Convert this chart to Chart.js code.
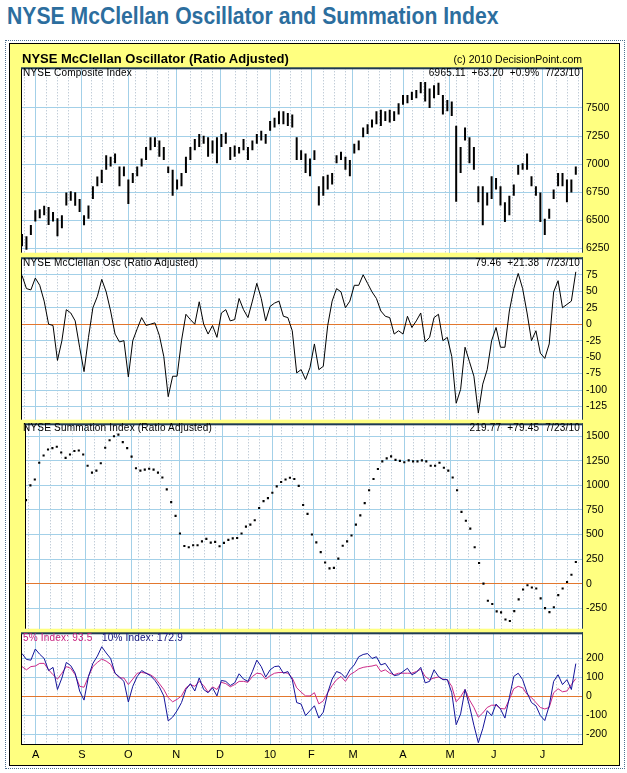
<!DOCTYPE html>
<html>
<head>
<meta charset="utf-8">
<script src="https://cdn.jsdelivr.net/npm/chart.js@4.4.1/dist/chart.umd.min.js"></script>
<style>
  body { margin: 0; background: #fff; width: 627px; height: 773px; position: relative; overflow: hidden;
         font-family: "Liberation Sans", Arial, sans-serif; }
  .abs { position: absolute; }
  #outer { left: 5px; top: 40px; width: 618px; height: 727px; border: 1px dotted #4d6f8f; }
  #box { left: 9px; top: 43px; width: 609px; height: 721px; border: 1px solid #000; background: #ffff80; }
  canvas { position: absolute; left: 21px; }
  .lbl { position: absolute; font-size: 10px; line-height: 10px; white-space: pre; color: #000; z-index: 5; letter-spacing: 0.2px; }
  #title { left: 7px; top: 5px; font-size: 23px; line-height: 23px; font-weight: bold; color: #2c6e9e;
           white-space: pre; transform: scaleX(0.92); transform-origin: left top; }
  #head { left: 22px; top: 52px; font-size: 13px; line-height: 13px; font-weight: bold; white-space: pre; z-index: 5; }
  #copy { right: 45px; top: 54px; font-size: 10.5px; line-height: 10.5px; white-space: pre; z-index: 5; }
</style>
</head>
<body>
<div id="outer" class="abs"></div>
<div id="box" class="abs"></div>
<div id="title" class="abs">NYSE McClellan Oscillator and Summation Index</div>
<div id="head" class="abs">NYSE McClellan Oscillator (Ratio Adjusted)</div>
<div id="copy" class="abs">(c) 2010 DecisionPoint.com</div>

<canvas id="c1" width="600" height="205" style="top:58px"></canvas>
<canvas id="c2" width="600" height="182" style="top:248px"></canvas>
<canvas id="c3" width="600" height="225" style="top:414px"></canvas>
<canvas id="c4" width="600" height="139" style="top:623px"></canvas>

<div class="lbl" style="left:23px;top:67.5px">NYSE Composite Index</div>
<div class="lbl" style="right:47px;top:67.5px">6965.11  +63.20  +0.9%  7/23/10</div>
<div class="lbl" style="left:23px;top:258px">NYSE McClellan Osc (Ratio Adjusted)</div>
<div class="lbl" style="right:47px;top:258px">79.46  +21.38  7/23/10</div>
<div class="lbl" style="left:23px;top:423px">NYSE Summation Index (Ratio Adjusted)</div>
<div class="lbl" style="right:47px;top:423px">219.77  +79.45  7/23/10</div>
<div class="lbl" style="left:23px;top:633px;color:#c8207e">5% Index: 93.5</div>
<div class="lbl" style="left:102px;top:633px;color:#10107a">10% Index: 172.9</div>

<script>
// one point = two trading days, 24 Jul 2009 .. 23 Jul 2010
const monthLabels = ['A', 'S', 'O', 'N', 'D', '10', 'F', 'M', 'A', 'M', 'J', 'J'];
const monthPos = [3.1, 13.5, 24.0, 34.8, 44.7, 56.0, 65.3, 74.7, 86.0, 96.6, 106.5, 117.5];

const nyaTicks = [6250, 6500, 6750, 7000, 7250, 7500];
const oscTicks = [-125, -100, -75, -50, -25, 0, 25, 50, 75];
const sumTicks = [-250, 0, 250, 500, 750, 1000, 1250, 1500];
const pctTicks = [-200, -100, 0, 100, 200];

const nyaHigh = [
  6380, 6360, 6460, 6590, 6600, 6630, 6620, 6575, 6520, 6545,
  6748, 6760, 6750, 6690, 6545, 6632, 6805, 6890, 6950, 7080,
  7066, 7095, 6979, 6979, 6863, 6921, 6979, 7050, 7153, 7240,
  7240, 7211, 7153, 6979, 6950, 6863, 6921, 7066, 7153, 7225,
  7268, 7254, 7240, 7211, 7240, 7268, 7283, 7153, 7167, 7153,
  7225, 7153, 7211, 7268, 7297, 7268, 7384, 7413, 7471, 7471,
  7456, 7442, 7240, 7124, 7095, 7050, 7124, 6805, 6892, 6907,
  6921, 7080, 7110, 7066, 7037, 7182, 7211, 7326, 7355, 7398,
  7471, 7485, 7471, 7485, 7471, 7543, 7616, 7616, 7645, 7659,
  7731, 7731, 7674, 7703, 7725, 7616, 7572, 7558, 7341, 7153,
  7326, 7240, 7153, 6805, 6805, 6748, 6892, 6878, 6805, 6661,
  6719, 6820, 6994, 7008, 7095, 6892, 6805, 6748, 6516, 6603,
  6776, 6921, 6921, 6863, 6863, 6979
];
const nyaLow = [
  6270, 6240, 6370, 6490, 6520, 6545, 6460, 6490, 6360, 6430,
  6632, 6675, 6630, 6575, 6458, 6516, 6690, 6805, 6834, 6950,
  6979, 7008, 6805, 6892, 6646, 6834, 6892, 6979, 7037, 7124,
  7153, 7066, 7037, 6921, 6719, 6776, 6805, 6921, 7037, 7124,
  7153, 7182, 7066, 7095, 7008, 7153, 7182, 7037, 7066, 7095,
  7124, 7037, 7124, 7182, 7211, 7182, 7297, 7326, 7355, 7355,
  7340, 7326, 7037, 7037, 6921, 6892, 7037, 6632, 6719, 6776,
  6820, 7008, 7037, 6950, 6892, 7095, 7124, 7240, 7268, 7326,
  7355, 7340, 7384, 7370, 7384, 7442, 7529, 7543, 7572, 7587,
  7630, 7558, 7500, 7587, 7616, 7442, 7471, 7428, 6666, 6921,
  7211, 7008, 6950, 6661, 6458, 6632, 6690, 6776, 6632, 6487,
  6545, 6719, 6907, 6950, 6950, 6805, 6719, 6487, 6371, 6516,
  6690, 6805, 6805, 6661, 6748, 6907
];
const oscVals = [
  74, 54, 52, 70, 59, 35, 0, -2, -55, -25,
  22, 17, 5, -35, -72, -20, 25, 42, 68, 49,
  20, -15, -27, -25, -80, -25, -7, 10, -2, 0,
  2, -17, -49, -110, -79, -79, -25, 15, 7, 0,
  34, 0, -15, -2, -20, 17, 22, 5, 7, 39,
  22, 10, 35, 62, 39, 5, 27, 32, 35, 12,
  10, -10, -74, -69, -84, -66, -30, -69, -64, -2,
  35, 54, 49, 25, 35, 59, 59, 75, 62, 49,
  39, 20, 12, 10, -15, -10, -15, 12, -5, 5,
  17, -27, -20, 10, 15, -25, -20, -49, -120, -99,
  -35, -57, -79, -135, -91, -69, -25, -5, -35, -35,
  20, 54, 77, 54, 17, -25, -10, -44, -52, -30,
  49, 66, 25, 30, 35, 79.46
];
const sumVals = [
  850, 1000, 1060, 1230, 1305, 1365, 1380, 1393, 1335, 1280,
  1315, 1350, 1355, 1315, 1200, 1130, 1150, 1225, 1383, 1460,
  1500, 1517, 1440, 1380, 1293, 1175, 1150, 1160, 1170, 1160,
  1130, 1080, 960, 830, 690, 510, 383, 370, 390, 390,
  430, 455, 417, 425, 380, 415, 445, 460, 465, 510,
  580, 600, 645, 770, 840, 870, 925, 990, 1035, 1060,
  1078, 1065, 995, 800, 710, 500, 420, 320, 215, 155,
  160, 255, 385, 430, 490, 600, 695, 820, 950, 1065,
  1167, 1245, 1275, 1295, 1260, 1250, 1235, 1255, 1245, 1245,
  1255, 1245, 1200, 1200, 1230, 1180, 1150, 1080, 950, 730,
  640, 560, 370, 210, 0, -175, -207, -283, -293, -365,
  -380, -280, -160, -60, -17, -40, -50, -150, -250, -290,
  -240, -117, -50, 17, 90, 219.77
];
const pct10 = [
  226, 195, 191, 250, 222, 200, 136, 153, 36, 97,
  179, 162, 122, 28, -20, 105, 174, 212, 262, 229,
  200, 122, 102, 79, -30, 53, 105, 136, 122, 109,
  84, 50, 2, -130, -110, -76, -33, 36, 67, 28,
  97, 36, 19, 45, 2, 84, 79, 57, 71, 119,
  91, 79, 131, 191, 157, 102, 140, 157, 160, 122,
  131, 88, -33, -41, -102, -76, -50, -115, -84, 19,
  91, 131, 122, 97, 140, 166, 209, 221, 226, 200,
  209, 166, 174, 140, 109, 114, 131, 148, 114, 126,
  153, 71, 79, 140, 105, 88, 88, 19, -150, -93,
  36, -50, -153, -245, -171, -76, -102, -41, -67, -115,
  -7, 105, 122, 88, 19, -33, -50, -102, -128, -50,
  79, 114, 62, 88, 36, 172.9
];
const pct5 = [
  157, 140, 157, 160, 174, 174, 140, 114, 91, 122,
  157, 148, 114, 53, 48, 105, 157, 179, 197, 186,
  169, 122, 97, 97, 62, 91, 122, 126, 122, 114,
  97, 67, 36, -7, -29, -16, 2, 45, 62, 53,
  79, 57, 22, 50, 36, 74, 67, 50, 62, 79,
  79, 74, 105, 122, 119, 91, 109, 122, 126, 126,
  122, 97, 45, 22, 2, 2, 19, -40, -24, 19,
  57, 88, 105, 79, 114, 128, 145, 153, 157, 160,
  166, 131, 140, 122, 114, 122, 122, 122, 122, 131,
  143, 105, 88, 97, 102, 91, 88, 53, -29, -2,
  36, -19, -59, -110, -88, -59, -47, -47, -64, -67,
  -16, 40, 53, 45, 10, -7, -33, -59, -67, -59,
  19, 40, 24, 28, 62, 93.5
];

const FONT = '"Liberation Sans", Arial, sans-serif';
const X_MIN = -0.23, X_MAX = 126.4;
const GRID = '#a3d0e8';

// weekly dotted grid positions
const weekPos = [];
for (let v = 0.6; v < X_MAX; v += 2.5) {
  if (!monthPos.some(m => Math.abs(m - v) < 1)) weekPos.push(v);
}

const panelPlugin = {
  id: 'panel',
  beforeDraw(chart) {
    const { ctx, chartArea: a } = chart;
    ctx.save();
    ctx.fillStyle = '#fff';
    ctx.fillRect(a.left, a.top, a.right - a.left, a.bottom - a.top);
    ctx.restore();
  },
  afterDraw(chart, args, opts) {
    const { ctx, chartArea: a } = chart;
    ctx.save();
    ctx.fillStyle = '#000';
    ctx.fillRect(a.left, a.top, 1, a.bottom - a.top);
    ctx.fillStyle = '#1f3a52';
    ctx.fillRect(a.right, a.top - 1, 1, a.bottom - a.top + 1);
    ctx.fillRect(a.left, a.top - 1, a.right - a.left + 1, 2);
    if (opts.bottomLine) {
      ctx.fillStyle = '#000';
      ctx.fillRect(a.left, a.bottom, a.right - a.left + 1, 1);
    }
    ctx.restore();
  }
};

function xScales(showLabels) {
  return {
    x: {
      type: 'linear', min: X_MIN, max: X_MAX, offset: false,
      afterBuildTicks: s => { s.ticks = monthPos.map(v => ({ value: v })); },
      afterFit: s => { s.height = showLabels ? 18 : 0; },
      grid: { color: GRID, drawTicks: false, offset: false },
      border: { display: false },
      ticks: {
        display: showLabels, autoSkip: false, maxRotation: 0, padding: 4, color: '#000',
        font: { size: 11, family: FONT },
        callback: v => monthLabels[monthPos.indexOf(v)]
      }
    },
    xw: {
      type: 'linear', position: 'bottom', min: X_MIN, max: X_MAX, offset: false,
      afterBuildTicks: s => { s.ticks = weekPos.map(v => ({ value: v })); },
      afterFit: s => { s.height = 0; },
      grid: { color: '#a8b8c8', drawTicks: false, offset: false },
      border: { display: false, dash: [1, 2] },
      ticks: { display: false }
    }
  };
}

function yScale(min, max, ticks) {
  return {
    position: 'right', min, max,
    afterBuildTicks: s => { s.ticks = ticks.map(v => ({ value: v })); },
    afterFit: s => { s.width = 39; },
    grid: { drawTicks: false, color: c => (c.tick && c.tick.value === 0) ? '#e2772e' : GRID },
    border: { display: false },
    ticks: { padding: 4, color: '#000', font: { size: 10.5, family: FONT }, callback: v => String(v) }
  };
}

function panel(id, type, datasets, yMin, yMax, ticks, showLabels) {
  return new Chart(document.getElementById(id), {
    type,
    data: { datasets },
    options: {
      responsive: false, animation: false, devicePixelRatio: 1, events: [],
      layout: { padding: { top: 8, bottom: showLabels ? 0 : 8, left: 0, right: 0 } },
      plugins: { legend: { display: false }, tooltip: { enabled: false }, panel: { bottomLine: showLabels } },
      scales: Object.assign(xScales(showLabels), { y: yScale(yMin, yMax, ticks) })
    },
    plugins: [panelPlugin]
  });
}

panel('c1', 'bar', [{
  xAxisID: 'x',
  data: nyaHigh.map((h, k) => ({ x: k, y: [nyaLow[k], h] })),
  backgroundColor: '#000', borderWidth: 0, barThickness: 2, inflateAmount: 0
}], 6213, 7853, nyaTicks, false);

panel('c2', 'line', [{
  xAxisID: 'x',
  data: oscVals.map((v, k) => ({ x: k, y: v })),
  borderColor: '#000', borderWidth: 1, pointRadius: 0, tension: 0
}], -145, 100, oscTicks, false);

panel('c3', 'scatter', [{
  xAxisID: 'x',
  data: sumVals.map((v, k) => ({ x: k, y: v })),
  pointStyle: 'rect', pointRadius: 1.5, backgroundColor: '#000', borderWidth: 0
}], -459, 1622, sumTicks, false);

panel('c4', 'line', [{
  xAxisID: 'x',
  data: pct10.map((v, k) => ({ x: k, y: v })),
  borderColor: '#14149a', borderWidth: 1, pointRadius: 0, tension: 0
}, {
  xAxisID: 'x',
  data: pct5.map((v, k) => ({ x: k, y: v })),
  borderColor: '#cc2a88', borderWidth: 1, pointRadius: 0, tension: 0
}], -252, 333, pctTicks, true);
</script>
</body>
</html>
